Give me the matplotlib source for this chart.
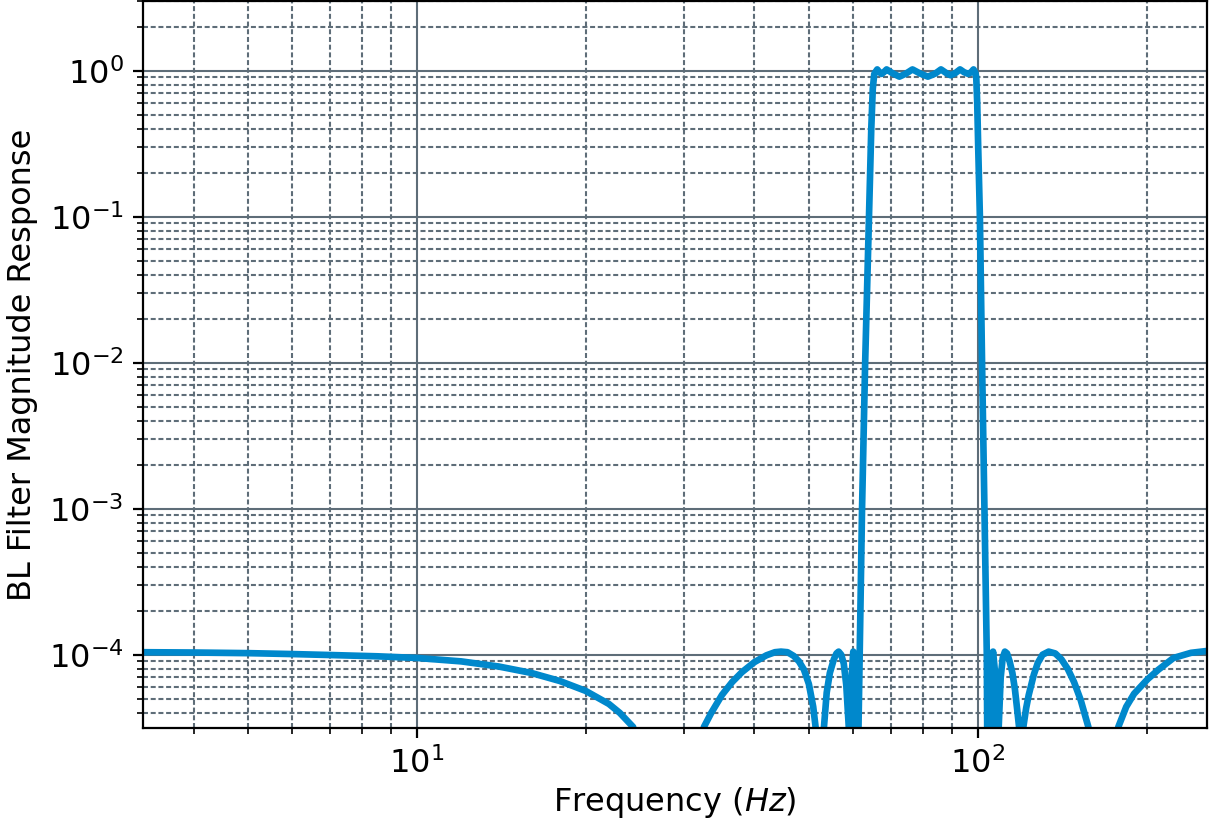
import numpy as np
import matplotlib
matplotlib.use("Agg")
import matplotlib.pyplot as plt
from matplotlib.ticker import LogLocator

# Frequency (Hz) and magnitude
freq = [3.25, 4.0, 5.0, 6.0, 7.0, 8.5, 10.0, 12.0, 14.0, 16.0, 18.0, 20.0, 22.0, 23.0, 24.3,
        29.0,
        32.5, 33.5, 35.0, 36.5, 38.0, 40.0, 42.0, 43.5, 44.6, 45.8, 47.0, 48.0, 49.0, 50.0, 50.9, 51.4,
        52.2,
        53.2, 53.8, 54.5, 55.4, 56.0, 56.5, 57.1, 57.7, 58.3, 58.9,
        59.3, 59.65, 60.0, 60.4, 60.8,
        61.3, 61.6, 62.2, 63.0, 64.0, 64.6, 65.0, 65.4,
        66.2, 66.8, 67.4, 68.0, 68.8, 70.5, 72.5, 74.5, 76.5, 79.0, 81.5, 84.0, 86.0,
        88.0, 89.5, 91.3, 93.0, 94.6, 96.2, 97.3, 98.3, 99.0, 99.4,
        99.8, 100.2, 100.9, 101.8, 102.8, 103.8,
        104.8, 105.7, 106.5, 107.4, 108.3,
        109.0, 109.9, 110.8, 111.8, 112.8, 114.0, 115.3, 116.5, 117.6, 118.5,
        119.4,
        120.6, 122.0, 123.3, 125.9, 128.0, 130.5, 133.8, 137.5, 141.0, 144.7, 148.5, 152.6, 155.5, 157.5,
        167.0,
        178.1, 184.0, 190.0, 200.9, 210.0, 223.4, 240.0, 256.0]
mag = [1.04e-4, 1.035e-4, 1.025e-4, 1.01e-4, 0.995e-4, 0.975e-4, 0.95e-4, 0.90e-4, 0.83e-4, 0.75e-4, 0.66e-4, 0.565e-4, 0.46e-4, 0.40e-4, 0.32e-4,
       1e-7,
       3.2e-5, 4.0e-5, 5.3e-5, 6.5e-5, 7.6e-5, 8.9e-5, 9.9e-5, 1.04e-4, 1.05e-4, 1.04e-4, 9.8e-5, 9.0e-5, 7.9e-5, 6.3e-5, 4.4e-5, 3.2e-5,
       1e-7,
       3.2e-5, 5.5e-5, 7.5e-5, 9.3e-5, 1.02e-4, 1.05e-4, 1.0e-4, 8.7e-5, 6.2e-5, 3.2e-5,
       1e-7, 7.5e-5, 1.05e-4, 7.5e-5, 1e-7,
       3.2e-5, 1e-4, 1e-3, 1e-2, 1e-1, 0.4, 0.75, 0.95,
       1.02, 0.975, 0.95, 0.975, 1.02, 0.96, 0.91, 0.955, 1.02, 0.955, 0.91, 0.955, 1.02,
       0.96, 0.93, 0.965, 1.02, 0.975, 0.95, 0.975, 1.02, 0.97, 0.9,
       0.6, 0.3, 0.1, 1e-2, 1e-3, 1e-4,
       1e-7, 7.5e-5, 1.05e-4, 7.5e-5, 1e-7,
       3.2e-5, 7.0e-5, 9.5e-5, 1.05e-4, 1.02e-4, 9.0e-5, 7.5e-5, 5.8e-5, 4.2e-5, 3.2e-5,
       1e-7,
       3.2e-5, 4.3e-5, 5.3e-5, 7.3e-5, 8.8e-5, 1.0e-4, 1.05e-4, 1.02e-4, 9.3e-5, 8.0e-5, 6.5e-5, 4.9e-5, 3.8e-5, 3.2e-5,
       1e-7,
       3.2e-5, 4.4e-5, 5.4e-5, 6.8e-5, 7.9e-5, 9.5e-5, 1.03e-4, 1.06e-4]

xlim = (3.25, 256.0)
ylim = (10 ** -4.5, 3.0)

line_color = "#0088cc"
grid_color = "#5e6d78"

fig = plt.figure(figsize=(12.11 / 2, 8.22 / 2), dpi=200)
ax = fig.add_axes([143 / 1211, 1 - 727.7 / 822, (1206.7 - 143) / 1211, (727.7 - 1) / 822])
ax.loglog(freq, mag, color=line_color, lw=2.4, solid_joinstyle="round")
ax.set_xlim(*xlim)
ax.set_ylim(*ylim)
ax.yaxis.set_minor_locator(LogLocator(base=10, subs=np.arange(2, 10), numticks=50))
ax.xaxis.set_minor_locator(LogLocator(base=10, subs=np.arange(2, 10), numticks=50))
ax.grid(which="major", color=grid_color, ls="-", lw=0.75)
ax.grid(which="minor", color=grid_color, ls=(0, (2.4, 1.3)), lw=0.75)
ax.tick_params(labelsize=11.5)
ax.set_xlabel("Frequency ($Hz$)", fontsize=11.5, labelpad=2)
ax.set_ylabel("BL Filter Magnitude Response", fontsize=11.5)

fig.savefig("out.png", dpi=200)
